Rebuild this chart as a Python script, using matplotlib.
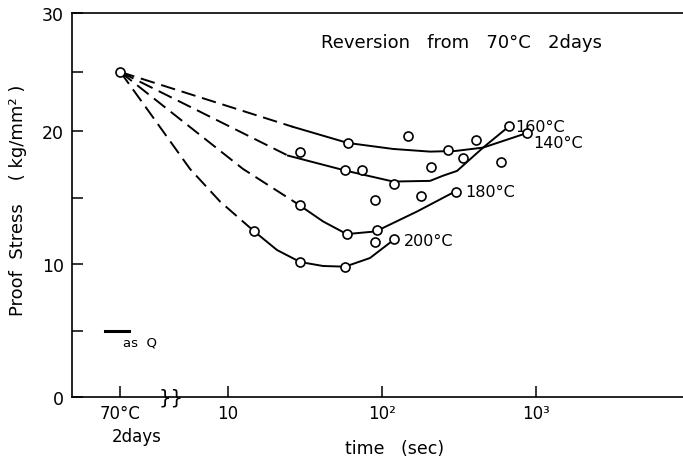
import numpy as np
import matplotlib
matplotlib.use("Agg")
import matplotlib.pyplot as plt
from matplotlib.ticker import NullLocator

plt.rcParams["font.family"] = ["DejaVu Sans"]

# posición del punto "70°C 2days" sobre el eje de tiempo
T_INICIO = 2.0
S_INICIO = 25.0

# puntos medidos (tiempo en s, tensión en kg/mm2)
t140 = [60, 148, 268, 407, 874]
s140 = [19.1, 19.6, 18.6, 19.3, 19.85]
t160 = [29.4, 57.5, 74, 120, 208, 336, 593, 668]
s160 = [18.45, 17.1, 17.1, 16.05, 17.3, 18.0, 17.7, 20.4]
t180 = [29.4, 59, 90, 93, 179, 303]
s180 = [14.4, 12.25, 14.8, 12.55, 15.15, 15.45]
t200 = [14.8, 29.4, 57.5, 90, 120]
s200 = [12.45, 10.15, 9.75, 11.65, 11.85]

# curvas trazadas a mano: tramo discontinuo y tramo continuo
c140_tdis = [T_INICIO, 26.4]
c140_sdis = [S_INICIO, 20.35]
c140_t = [26.4, 60, 118, 205, 300, 453, 874]
c140_s = [20.35, 19.1, 18.65, 18.45, 18.5, 18.75, 19.85]

c160_tdis = [T_INICIO, 24.5]
c160_sdis = [S_INICIO, 18.15]
c160_t = [24.5, 59, 118, 205, 249, 307, 453, 668]
c160_s = [18.15, 17.0, 16.2, 16.25, 16.64, 17.0, 18.75, 20.4]

c180_tdis = [T_INICIO, 12.5, 28]
c180_sdis = [S_INICIO, 17.15, 14.55]
c180_t = [28, 41.4, 59, 91, 169, 298]
c180_s = [14.55, 13.2, 12.25, 12.45, 13.95, 15.45]

c200_tdis = [T_INICIO, 3.12, 5.66, 8.87, 14.8]
c200_sdis = [S_INICIO, 21.5, 17.15, 14.7, 12.45]
c200_t = [14.8, 20.8, 29.4, 41.4, 57.5, 83.5, 120]
c200_s = [12.45, 11.05, 10.15, 9.85, 9.8, 10.45, 11.85]

etiquetas = ["140°C", "160°C", "180°C", "200°C"]


# el original escaneado tiene la zona 20-30 algo comprimida
def adelante(y):
    y = np.asarray(y, dtype=float)
    return np.where(y <= 20, y * 13.3, 266 + (y - 20) * 11.8)


def inversa(v):
    v = np.asarray(v, dtype=float)
    return np.where(v <= 266, v / 13.3, 20 + (v - 266) / 11.8)


fig = plt.figure(figsize=(6.83, 4.60), dpi=100)
ax = fig.add_axes([72 / 683, 62 / 460, 1 - 72 / 683, 384 / 460])
ax.set_xscale("log")
ax.set_yscale("function", functions=(adelante, inversa))
ax.set_xlim(0.97, 9000)
ax.set_ylim(0, 30)

estilo_dis = dict(color="black", lw=1.4, linestyle=(0, (7.5, 3.5)))
estilo_lin = dict(color="black", lw=1.4)
estilo_pto = dict(linestyle="none", marker="o", ms=6.5, mfc="white",
                  mec="black", mew=1.2, zorder=5)

for td, sd, tc, sc in [(c140_tdis, c140_sdis, c140_t, c140_s),
                       (c160_tdis, c160_sdis, c160_t, c160_s),
                       (c180_tdis, c180_sdis, c180_t, c180_s),
                       (c200_tdis, c200_sdis, c200_t, c200_s)]:
    ax.plot(td, sd, **estilo_dis)
    ax.plot(tc, sc, **estilo_lin)

ax.plot([T_INICIO], [S_INICIO], **estilo_pto)
for t, s in [(t140, s140), (t160, s160), (t180, s180), (t200, s200)]:
    ax.plot(t, s, **estilo_pto)

# etiquetas al final de cada curva
desplaz = [(4.5, -6.5), (4.5, 0), (6.5, 0), (7, -0.5)]
finales = [(t140[-1], s140[-1]), (t160[-1], s160[-1]),
           (t180[-1], s180[-1]), (t200[-1], s200[-1])]
for txt, (t, s), d in zip(etiquetas, finales, desplaz):
    ax.annotate(txt, (t, s), xytext=d, textcoords="offset points",
                ha="left", va="center", fontsize=11.5)

ax.text(0.638, 0.924, "Reversion   from   70°C   2days", transform=ax.transAxes,
        ha="center", va="center", fontsize=13)

# clave "as Q"
ax.plot([0.054, 0.093], [5, 5], color="black", lw=2.2,
        transform=ax.get_yaxis_transform())
ax.text(0.083, 4.15, "as  Q", transform=ax.get_yaxis_transform(),
        ha="left", va="center", fontsize=9.5)

# ejes
ax.spines["right"].set_visible(False)
for lado in ["left", "bottom", "top"]:
    ax.spines[lado].set_linewidth(1.2)

ax.set_xticks([T_INICIO, 10, 100, 1000])
ax.set_xticklabels(["70°C", "10", "10²", "10³"], fontsize=12)
ax.xaxis.set_minor_locator(NullLocator())
ax.set_yticks([0, 10, 20, 30])
ax.set_yticklabels(["0", "10", "20", "30"], fontsize=12.5)
ax.set_yticks([5, 15, 25], minor=True)
ax.tick_params(axis="both", which="both", direction="in", length=8, width=1.1)
ax.tick_params(axis="x", pad=5)
ax.tick_params(axis="y", pad=6)

ax.annotate("2days", (T_INICIO, 0), xycoords=("data", "axes fraction"),
            xytext=(12, -28), textcoords="offset points",
            ha="center", va="center", fontsize=12)
# marca de corte del eje
ax.annotate("}}", (4.27, 0), xycoords=("data", "axes fraction"),
            ha="center", va="center", fontsize=14, annotation_clip=False)

ax.set_xlabel("time   (sec)", fontsize=12.5)
ax.xaxis.set_label_coords((395 - 72) / 611, (398 - 440) / 384)
ax.set_ylabel("Proof  Stress    ( kg/mm² )", fontsize=13)
ax.yaxis.set_label_coords((27 - 72) / 611, (398 - 200) / 384)

fig.savefig("out.png", dpi=100)
